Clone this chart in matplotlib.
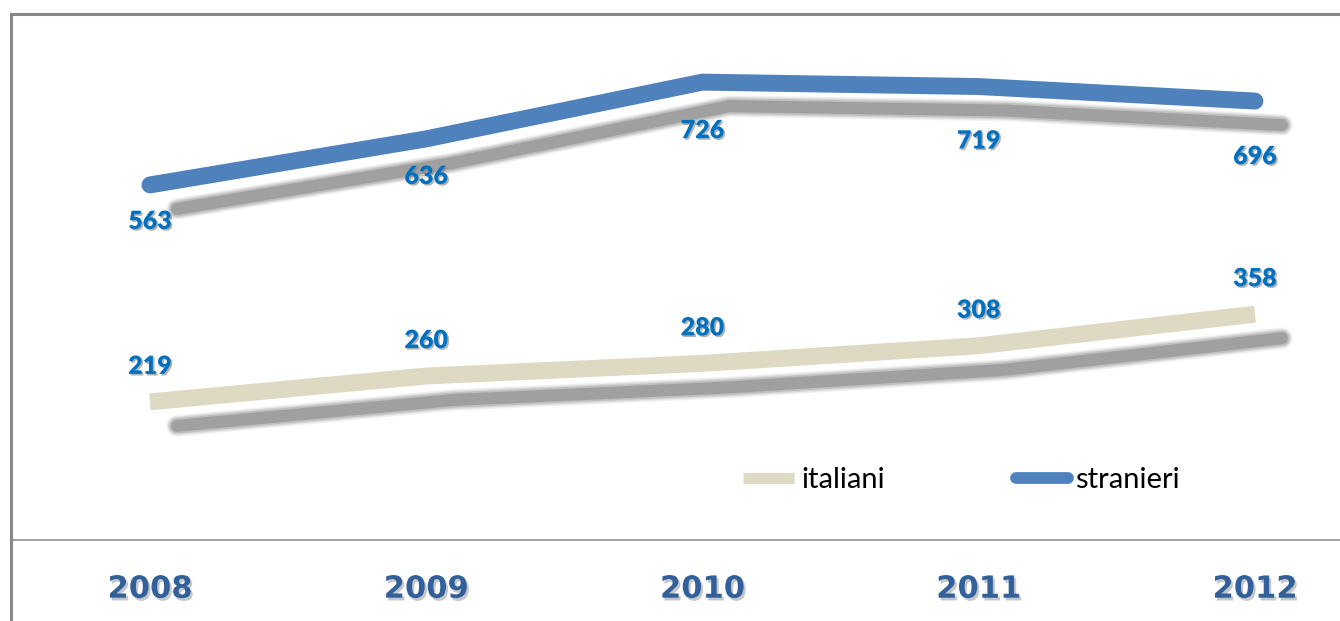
import matplotlib
matplotlib.use("Agg")
import matplotlib.pyplot as plt
import matplotlib.patheffects as pe
import matplotlib.transforms as mtransforms
from matplotlib.lines import Line2D

years = ["2008", "2009", "2010", "2011", "2012"]
italiani = [219, 260, 280, 308, 358]
stranieri = [563, 636, 726, 719, 696]

BLUE = "#4f81bd"
BEIGE = "#ddd9c3"
LABEL_BLUE = "#0070c0"
YEAR_BLUE = "#31609a"

fig = plt.figure(figsize=(13.4, 6.21), dpi=100)
fig.patch.set_facecolor("white")
W, H = 1340, 621

# plot area: frame at x=11, top at y=14, baseline at y=540 (pixels)
ax = fig.add_axes([11 / W, 1 - 540 / H, 1 - 11 / W, (540 - 14) / H])
x = list(range(len(years)))
ax.set_xlim(-0.503, 4.308)
ax.set_ylim(0, 834)
ax.set_yticks([])


def draw_series(vals, color, capstyle):
    # soft drop shadow, offset down-right
    shadow = mtransforms.offset_copy(ax.transData, fig=fig, x=27, y=-24, units="dots")
    for lw, a in [(22, 0.05), (20, 0.08), (18, 0.13), (15.5, 0.2), (12, 0.32)]:
        ax.plot(x, vals, color="#5f5f5f", lw=lw * 0.72, alpha=a, transform=shadow,
                solid_capstyle="round", solid_joinstyle="round", zorder=1)
    ax.plot(x, vals, color=color, lw=12.2, solid_capstyle=capstyle,
            solid_joinstyle="round", zorder=3)


draw_series(italiani, BEIGE, "butt")
draw_series(stranieri, BLUE, "round")

label_fx = [pe.withSimplePatchShadow(offset=(1.2, -1.2), shadow_rgbFace="#808080", alpha=0.6)]

# value labels: italiani above the line, stranieri below
for xi, v in zip(x, italiani):
    ax.annotate(str(v), xy=(xi, v), xytext=(0, 35), textcoords="offset pixels",
                ha="center", va="center", fontsize=18, fontweight="heavy",
                family="Lato", color=LABEL_BLUE, path_effects=label_fx, zorder=5)

below = [37, 38, 49, 55, 56]
for xi, v, dy in zip(x, stranieri, below):
    ax.annotate(str(v), xy=(xi, v), xytext=(0, -dy), textcoords="offset pixels",
                ha="center", va="center", fontsize=18, fontweight="heavy",
                family="Lato", color=LABEL_BLUE, path_effects=label_fx, zorder=5)

# category axis
ax.set_xticks(x)
ax.set_xticklabels(years, fontsize=22, fontweight="bold", family="DejaVu Sans",
                   color=YEAR_BLUE)
ax.tick_params(axis="x", length=0, pad=25)
for t in ax.get_xticklabels():
    t.set_path_effects([pe.withSimplePatchShadow(offset=(1.5, -2), shadow_rgbFace="#b0b0b0", alpha=0.7)])

ax.spines["right"].set_visible(False)
ax.spines["left"].set_visible(False)
ax.spines["top"].set_color("#888888")
ax.spines["top"].set_linewidth(2.2)
ax.spines["bottom"].set_color("#999999")
ax.spines["bottom"].set_linewidth(1.3)

# outer frame left edge runs to the bottom of the figure
fig.add_artist(Line2D([11 / W, 11 / W], [0, 1 - 14 / H], transform=fig.transFigure,
                      color="#888888", lw=2.2))

handles = [
    Line2D([], [], color=BEIGE, lw=8, solid_capstyle="butt"),
    Line2D([], [], color=BLUE, lw=8.5, solid_capstyle="round"),
]
leg = ax.legend(handles, ["italiani", "stranieri"], ncol=2, frameon=False,
                loc="center left", bbox_to_anchor=(0.551, 0.114),
                prop={"family": "Lato", "size": 21}, handlelength=1.75,
                handletextpad=0.25, columnspacing=4.5, borderpad=0, borderaxespad=0)

plt.savefig("out.png", dpi=100, facecolor="white")
